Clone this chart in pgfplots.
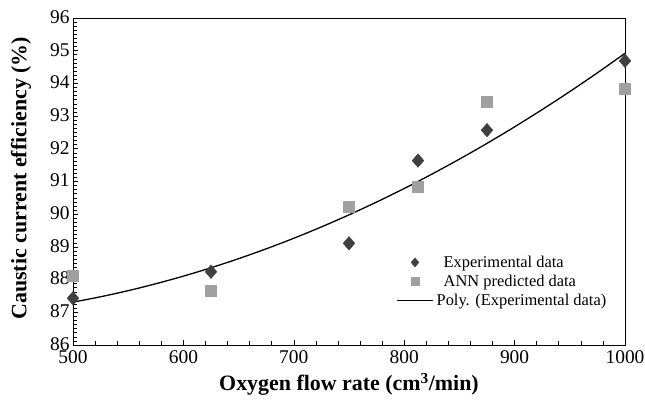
\documentclass[border=0pt]{standalone}
\usepackage{pgfplots}
\pgfplotsset{compat=1.18}
\usepackage{fontspec}
\setmainfont{Liberation Serif}
\definecolor{expc}{HTML}{404040}
\definecolor{annc}{HTML}{A0A0A0}
\begin{document}
\begin{tikzpicture}
\begin{axis}[
  name=ax,
  scale only axis,
  width=552bp, height=327bp,
  xmin=500, xmax=1000, ymin=86, ymax=96,
  xtick={500,600,...,1000}, ytick={86,87,...,96},
  minor x tick num=4, minor y tick num=7,
  xtick pos=left, ytick pos=left,
  tick align=inside,
  major tick length=5bp, minor tick length=4bp,
  tick style={black, line width=0.6pt},
  axis line style={black, line width=0.8pt},
  /pgf/number format/assume math mode=true,
  /pgf/number format/1000 sep={},
  ticklabel style={font=\fontsize{19.5}{21}\selectfont},
  xticklabel style={yshift=-2bp},
  yticklabel style={yshift=1bp},
  xlabel={\textbf{Oxygen flow rate (cm\textsuperscript{3}/min)}},
  ylabel={\textbf{Caustic current efficiency (\%)}},
  label style={font=\fontsize{22}{24}\selectfont},
  xlabel style={at={(axis description cs:0.5,-0.12)}, anchor=center},
  ylabel style={at={(axis description cs:-0.094,0.51)}, anchor=center},
  legend style={at={(axis description cs:0.58,0.285)}, anchor=north west, draw=none, fill=none,
    font=\fontsize{16.5}{19}\selectfont, row sep=2bp,
    legend image code/.code={\draw[mark repeat=2,mark phase=2,#1] plot coordinates {(0bp,0bp) (18bp,0bp) (36bp,0bp)}; \path (44bp,0bp);}},
  legend cell align=left,
  clip=false,
]
\addplot[only marks, mark=diamond*, mark size=6.8bp, mark options={xscale=1.15}, color=expc,
  legend image post style={mark size=4.5bp}] coordinates {
 (500,87.43) (625,88.24) (750,89.11) (812.5,91.64) (875,92.57) (1000,94.69)};
\addlegendentry{Experimental data}
\addplot[only marks, mark=square*, mark size=5.5bp, color=annc,
  legend image post style={mark size=4bp}] coordinates {
 (500,88.11) (625,87.65) (750,90.23) (812.5,90.84) (875,93.44) (1000,93.83)};
\addlegendentry{ANN predicted data}
\addplot[black, line width=1.3pt, smooth, no marks] coordinates {
 (500,87.31) (525,87.475) (550,87.662) (575,87.873) (600,88.106) (625,88.362)
 (650,88.640) (675,88.941) (700,89.264) (725,89.611) (750,89.98) (775,90.372)
 (800,90.786) (825,91.224) (850,91.684) (875,92.166) (900,92.672) (925,93.200)
 (950,93.750) (975,94.324) (1000,94.92)};
\addlegendentry{\hspace{-7bp}Poly. (Experimental data)}
\end{axis}
\pgfresetboundingbox
\path (ax.south west) ++(-73bp,-55bp) rectangle ++(645bp,400bp);
\end{tikzpicture}
\end{document}
